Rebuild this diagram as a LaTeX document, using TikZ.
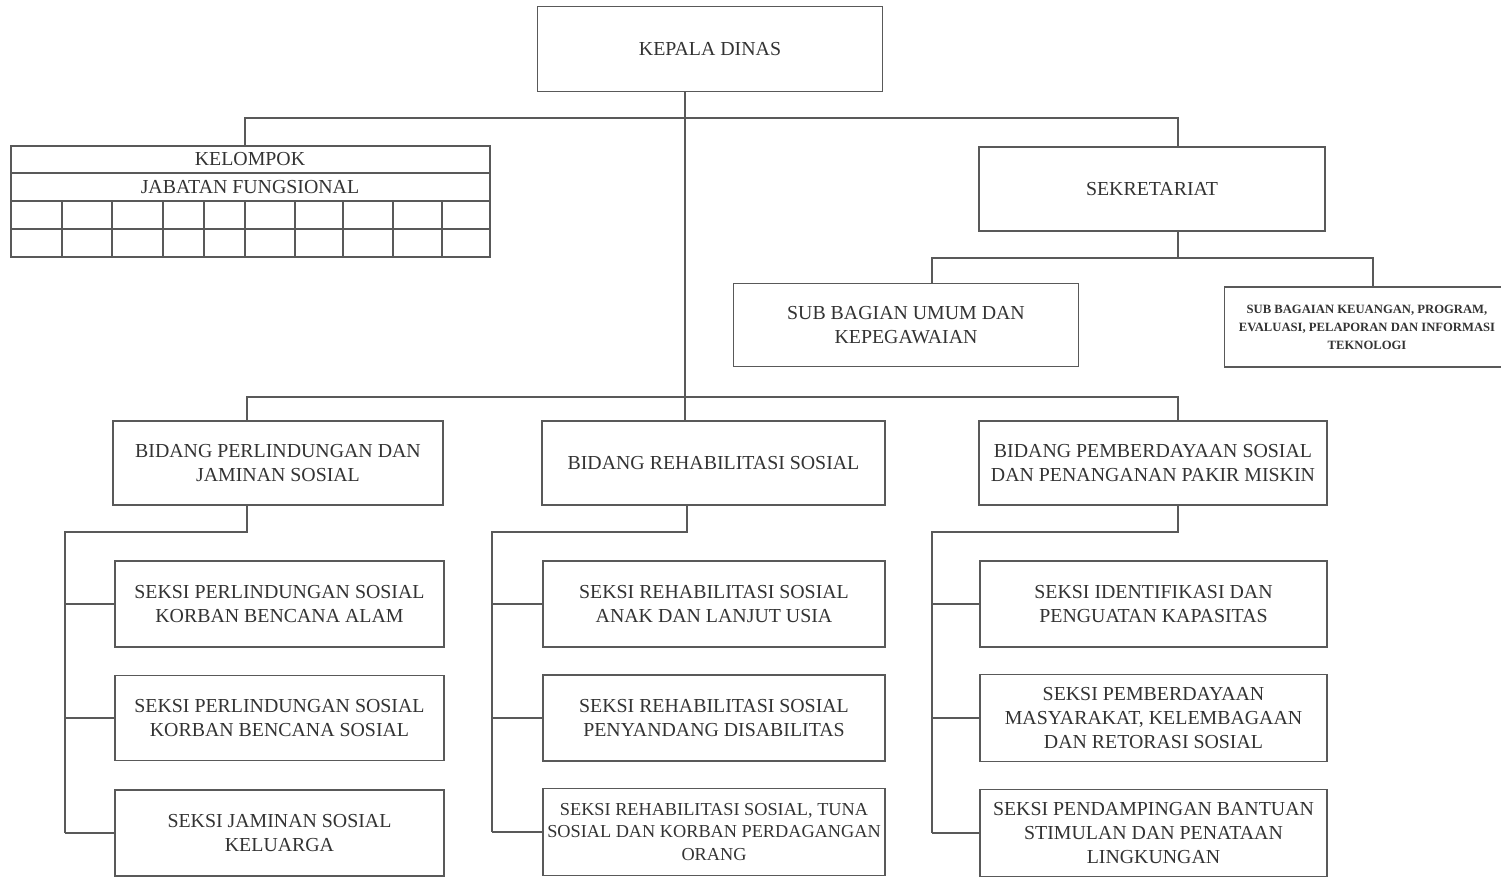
\documentclass[tikz,border=0pt]{standalone}
\usepackage{fontspec}
\setmainfont{Liberation Serif}
\begin{document}
\begin{tikzpicture}[x=0.02cm, y=-0.02cm, line width=1pt, draw=black!65,
	unit box/.style={rectangle, draw=black!65, line width=1pt, align=center, text=black!80, font=\fontsize{11.3}{13.6}\selectfont, inner sep=0pt},
	small box/.style={unit box, font=\fontsize{7.2}{10.2}\selectfont\bfseries},
	cell text/.style={text=black!80, font=\fontsize{11.3}{13.6}\selectfont, inner sep=0pt}]
	\useasboundingbox (0,0) rectangle (1501,876);
	\clip (0,0) rectangle (1501,876);
	% top level
	\node[unit box, minimum width=6.9cm, minimum height=1.7cm] (kepala) at (710,49) {KEPALA DINAS};
	\node[unit box, minimum width=6.92cm, minimum height=1.68cm] (sekre) at (1152,189) {SEKRETARIAT};
	\node[unit box, minimum width=6.9cm, minimum height=1.66cm] (subumum) at (906,325) {SUB BAGIAN UMUM DAN\\KEPEGAWAIAN};
	\node[unit box, minimum width=5.9cm, minimum height=1.6cm] (subkeu) at (1372,327) {};
	\node[small box, draw=none] (subkeutext) at (1367,327) {SUB BAGAIAN KEUANGAN, PROGRAM,\\EVALUASI, PELAPORAN DAN INFORMASI\\TEKNOLOGI};
	% kelompok jabatan fungsional
	\node[unit box, minimum width=9.58cm, minimum height=2.22cm] (kelompok) at (250.5,201.5) {};
	\node[cell text] (kel1) at (250,159.5) {KELOMPOK};
	\node[cell text] (kel2) at (250,187) {JABATAN FUNGSIONAL};
	\foreach \y in {173,201,229}
		\draw (11,\y) -- (490,\y);
	\foreach \x in {62,112,163,204,245,295,343,393,442}
		\draw (\x,201) -- (\x,257);
	% bidang
	\node[unit box, minimum width=6.6cm, minimum height=1.68cm] (bid1) at (278,463) {BIDANG PERLINDUNGAN DAN\\JAMINAN SOSIAL};
	\node[unit box, minimum width=6.86cm, minimum height=1.68cm] (bid2) at (713.5,463) {BIDANG REHABILITASI SOSIAL};
	\node[unit box, minimum width=6.96cm, minimum height=1.68cm] (bid3) at (1153,463) {BIDANG PEMBERDAYAAN SOSIAL\\DAN PENANGANAN PAKIR MISKIN};
	% seksi
	\node[unit box, minimum width=6.58cm, minimum height=1.72cm] (s11) at (279.5,604) {SEKSI PERLINDUNGAN SOSIAL\\KORBAN BENCANA ALAM};
	\node[unit box, minimum width=6.58cm, minimum height=1.7cm] (s12) at (279.5,718) {SEKSI PERLINDUNGAN SOSIAL\\KORBAN BENCANA SOSIAL};
	\node[unit box, minimum width=6.58cm, minimum height=1.72cm] (s13) at (279.5,833) {SEKSI JAMINAN SOSIAL\\KELUARGA};
	\node[unit box, minimum width=6.84cm, minimum height=1.72cm] (s21) at (714,604) {SEKSI REHABILITASI SOSIAL\\ANAK DAN LANJUT USIA};
	\node[unit box, minimum width=6.84cm, minimum height=1.72cm] (s22) at (714,718) {SEKSI REHABILITASI SOSIAL\\PENYANDANG DISABILITAS};
	\node[unit box, minimum width=6.84cm, minimum height=1.74cm, font=\fontsize{10.4}{12.9}\selectfont] (s23) at (714,832) {SEKSI REHABILITASI SOSIAL, TUNA\\SOSIAL DAN KORBAN PERDAGANGAN\\ORANG};
	\node[unit box, minimum width=6.94cm, minimum height=1.72cm] (s31) at (1153.5,604) {SEKSI IDENTIFIKASI DAN\\PENGUATAN KAPASITAS};
	\node[unit box, minimum width=6.94cm, minimum height=1.74cm] (s32) at (1153.5,718) {SEKSI PEMBERDAYAAN\\MASYARAKAT, KELEMBAGAAN\\DAN RETORASI SOSIAL};
	\node[unit box, minimum width=6.94cm, minimum height=1.74cm] (s33) at (1153.5,833) {SEKSI PENDAMPINGAN BANTUAN\\STIMULAN DAN PENATAAN\\LINGKUNGAN};
	% connectors
	\coordinate (jtop) at (685,118);
	\coordinate (aL) at (245,118);
	\coordinate (aR) at (1178,118);
	\coordinate (bC) at (1178,258);
	\coordinate (bL) at (932,258);
	\coordinate (bR) at (1373,258);
	\coordinate (cL) at (247,397);
	\coordinate (cR) at (1178,397);
	\draw (kepala.south -| jtop) -- (jtop |- bid2.north);
	\draw (aL |- kelompok.north) -- (aL) -- (aR) -- (aR |- sekre.north);
	\draw (bC |- sekre.south) -- (bC);
	\draw (bL |- subumum.north) -- (bL) -- (bR) -- (bR |- subkeu.north);
	\draw (cL |- bid1.north) -- (cL) -- (cR) -- (cR |- bid3.north);
	\foreach \b/\bx/\lx in {1/247/65, 2/687/492, 3/1178/932} {
		\coordinate (d\b) at (\bx,532);
		\coordinate (e\b) at (\lx,532);
		\draw (d\b |- bid\b.south) -- (d\b) -- (e\b) -- (e\b |- s\b3.west);
		\foreach \k in {1,2,3}
			\draw (e\b |- s\b\k.west) -- (s\b\k.west);
	}
\end{tikzpicture}
\end{document}
